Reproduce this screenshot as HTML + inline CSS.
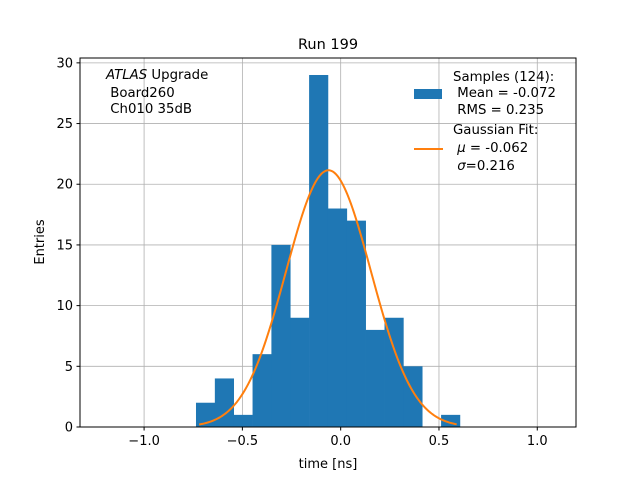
<!DOCTYPE html>
<html><head><meta charset="utf-8"><style>
body{margin:0;background:#fff;}
svg text{font-family:"DejaVu Sans","Liberation Sans",sans-serif;}
</style></head><body>
<svg id="chart" width="640" height="480" xmlns="http://www.w3.org/2000/svg">
<rect width="640" height="480" fill="#fff"/>
<g id="grid"></g>
<g id="bars"></g>
<g id="curve"></g>
<rect x="80" y="58" width="496" height="369" fill="none" stroke="#000" stroke-width="1"/>
<g id="ticks"></g>
<text x="328" y="49" font-size="14.5" text-anchor="middle">Run 199</text>
<text x="328" y="468" font-size="13" text-anchor="middle">time [ns]</text>
<text x="44" y="242" font-size="13" text-anchor="middle" transform="rotate(-90 44 242)">Entries</text>
<g font-size="13.3">
<text x="106" y="79"><tspan font-style="italic">ATLAS</tspan> Upgrade</text>
<text x="106" y="97">&#160;Board260</text>
<text x="106" y="113">&#160;Ch010 35dB</text>
</g>
<g font-size="13.3">
<rect x="414" y="89" width="28" height="10" fill="#1f77b4"/>
<text x="453" y="81">Samples (124):</text>
<text x="453" y="97">&#160;Mean = -0.072</text>
<text x="453" y="114">&#160;RMS = 0.235</text>
<line x1="414" y1="149" x2="443" y2="149" stroke="#ff7f0e" stroke-width="2"/>
<text x="453" y="134">Gaussian Fit:</text>
<text x="453" y="152">&#160;<tspan font-style="italic">μ</tspan> = -0.062</text>
<text x="453" y="170">&#160;<tspan font-style="italic">σ</tspan>=0.216</text>
</g>
</svg>
<script>
const binStart = -0.736;
const binWidth = 0.0959;
const counts = [2,4,1,6,15,9,29,18,17,8,9,5,0,1];
const xTicks = [-1.0,-0.5,0.0,0.5,1.0];
const xTickLabels = ["−1.0","−0.5","0.0","0.5","1.0"];
const yTicks = [0,5,10,15,20,25,30];
const fitMu = -0.062, fitSigma = 0.216, fitAmp = 21.15;
const fitRange = [-0.72, 0.59];
const L=80,R=576,T=58,B=427, xmin=-1.326,xmax=1.197,ymin=0,ymax=30.4;
const sx=v=>L+(v-xmin)/(xmax-xmin)*(R-L);
const sy=v=>B-(v-ymin)/(ymax-ymin)*(B-T);
const NS="http://www.w3.org/2000/svg";
function mk(tag,attrs,parent){const e=document.createElementNS(NS,tag);for(const k in attrs)e.setAttribute(k,attrs[k]);parent.appendChild(e);return e;}
const grid=document.getElementById('grid'),bars=document.getElementById('bars'),ticks=document.getElementById('ticks'),curve=document.getElementById('curve');
xTicks.forEach((t,i)=>{
  const x=sx(t);
  const g=mk('line',{x1:x,x2:x,y1:T,y2:B,stroke:'#b0b0b0','stroke-width':0.8},grid);
  
  
  const tk=mk('line',{x1:x,x2:x,y1:B,y2:B+3.5,stroke:'#000'},ticks);
  
  
  const tx=mk('text',{x:x,y:B+18,'font-size':13,'text-anchor':'middle'},ticks);
  tx.textContent=xTickLabels[i];
  
  
});
yTicks.forEach(t=>{
  const y=sy(t);
  const g=mk('line',{x1:L,x2:R,y1:y,y2:y,stroke:'#b0b0b0','stroke-width':0.8},grid);
  
  
  const tk=mk('line',{x1:L-3.5,x2:L,y1:y,y2:y,stroke:'#000'},ticks);
  
  
  const tx=mk('text',{x:L-7,y:y+4.5,'font-size':13,'text-anchor':'end'},ticks);
  tx.textContent=String(t);
  
  
});
counts.forEach((c,i)=>{
  if(c<=0)return;
  const x0=sx(binStart+i*binWidth),x1=sx(binStart+(i+1)*binWidth);
  const r=mk('rect',{x:x0,y:sy(c),width:x1-x0+0.3,height:sy(0)-sy(c),fill:'#1f77b4'},bars);
  
  
});
let d='';
for(let i=0;i<=200;i++){
  const x=fitRange[0]+(fitRange[1]-fitRange[0])*i/200;
  const y=fitAmp*Math.exp(-0.5*((x-fitMu)/fitSigma)**2);
  d+=(i?'L':'M')+sx(x).toFixed(2)+','+sy(y).toFixed(2);
}
const p=mk('path',{d:d,fill:'none',stroke:'#ff7f0e','stroke-width':2},curve);


</script>
</body></html>
